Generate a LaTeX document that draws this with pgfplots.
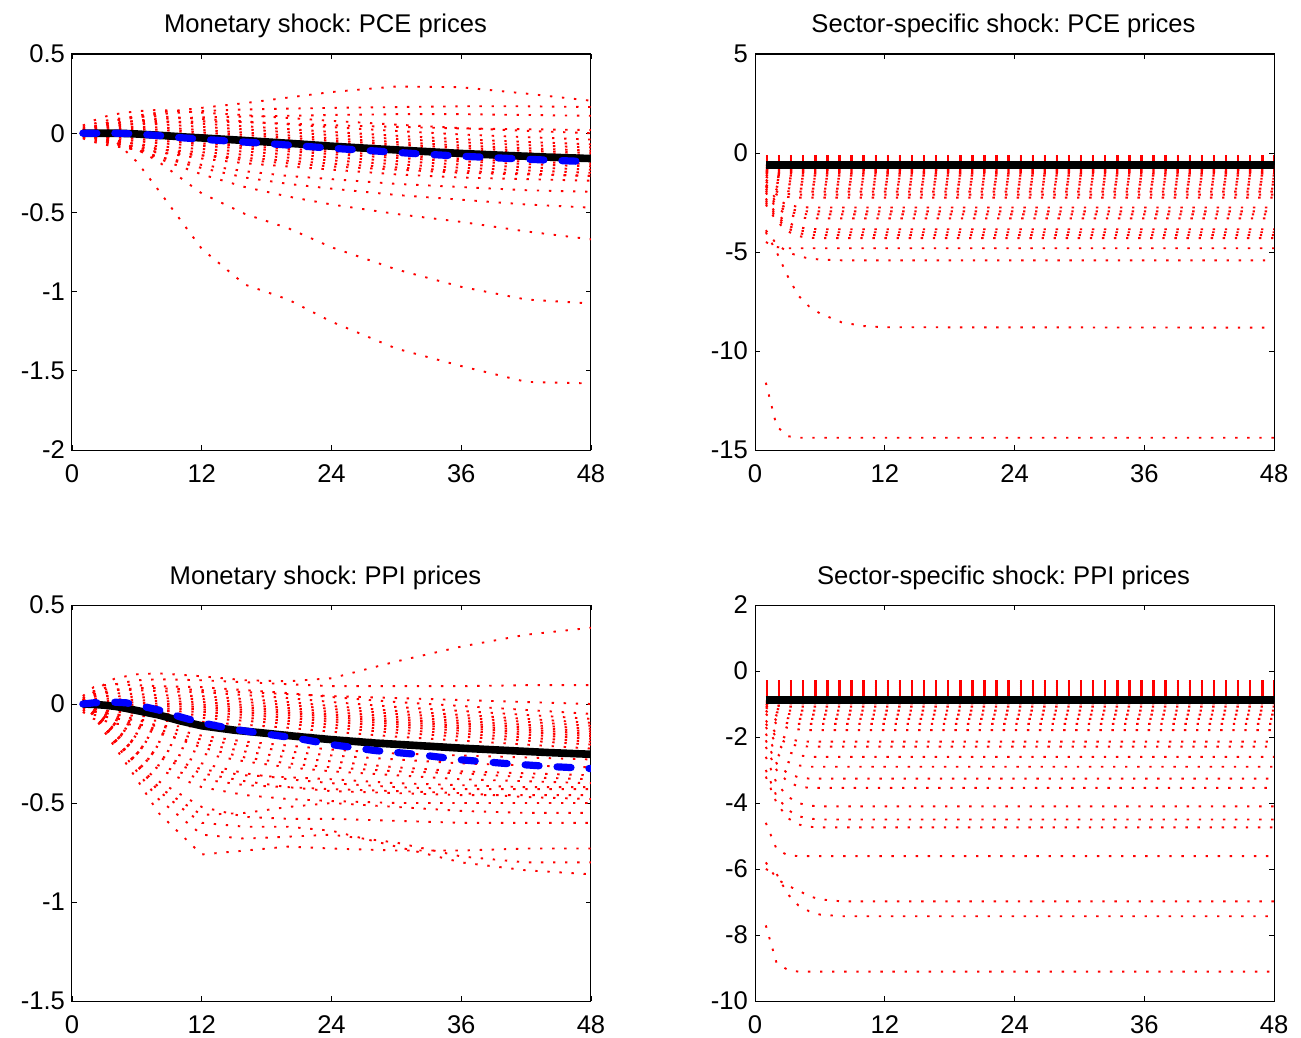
\documentclass[border=0pt]{standalone}
\usepackage{pgfplots}
\pgfplotsset{compat=1.18}
\usepackage{pgfplotstable}
\usepackage{fontspec}
\setmainfont{Liberation Sans}
\frenchspacing
\newcommand{\fs}{\fontsize{12.8}{15}\selectfont}

\pgfplotsset{
 panel/.style={
  scale only axis, width=259.5pt, height=198pt, anchor=north west,
  xmin=0, xmax=48, xtick={0,12,24,36,48}, xticklabels={0,12,24,36,48},
  tick align=inside, major tick length=2.5pt,
  tick style={black, line width=0.4pt},
  axis line style={black, line width=0.5pt},
  ticklabel style={font=\fs},
  xticklabel style={yshift=-3.6pt},
  title style={font=\fs, at={(0.5,1)}, anchor=base, yshift=4.5pt, inner sep=0pt},
 },
 reddot/.style={red, line width=0.95pt, dash pattern=on 1.2pt off 4.84pt, line cap=butt, forget plot},
 blk/.style={black, line width=3.8pt},
 blu/.style={blue, line width=3.6pt, dash pattern=on 7pt off 9pt, line cap=round},
}

% Monetary shock, PCE: one row per sector series
\pgfplotstableread{
name 1 2 3 4 6 8 12 16 20 24 30 36 42 48
c1 0.048 0.08 0.104 0.12 0.139 0.147 0.13 0.114 0.096 0.078 0.054 0.032 0.015 0.0
c2 0.036 0.06 0.078 0.09 0.103 0.107 0.09 0.074 0.056 0.038 0.014 -0.008 -0.025 -0.04
c3 0.027 0.045 0.059 0.068 0.076 0.077 0.06 0.044 0.026 0.008 -0.016 -0.038 -0.055 -0.07
c4 0.021 0.035 0.046 0.053 0.058 0.057 0.04 0.024 0.006 -0.012 -0.036 -0.058 -0.075 -0.09
c5 0.015 0.025 0.033 0.038 0.04 0.037 0.02 0.004 -0.014 -0.032 -0.056 -0.078 -0.095 -0.11
c6 0.011 0.018 0.023 0.026 0.027 0.022 0.005 -0.011 -0.029 -0.047 -0.071 -0.093 -0.11 -0.125
c7 0.006 0.01 0.013 0.015 0.013 0.007 -0.01 -0.026 -0.044 -0.062 -0.086 -0.108 -0.125 -0.14
c8 0.003 0.005 0.007 0.008 0.004 -0.003 -0.02 -0.036 -0.054 -0.072 -0.096 -0.118 -0.135 -0.15
c9 -0.003 -0.005 -0.007 -0.008 -0.014 -0.023 -0.04 -0.056 -0.074 -0.092 -0.116 -0.138 -0.155 -0.17
c10 -0.006 -0.01 -0.013 -0.015 -0.023 -0.033 -0.05 -0.066 -0.084 -0.102 -0.126 -0.148 -0.165 -0.18
c11 -0.011 -0.018 -0.023 -0.026 -0.037 -0.048 -0.065 -0.081 -0.099 -0.117 -0.141 -0.163 -0.18 -0.195
c12 -0.015 -0.025 -0.033 -0.038 -0.05 -0.063 -0.08 -0.096 -0.114 -0.132 -0.156 -0.178 -0.195 -0.21
c13 -0.021 -0.035 -0.046 -0.053 -0.068 -0.083 -0.1 -0.116 -0.134 -0.152 -0.176 -0.198 -0.215 -0.23
c14 -0.027 -0.045 -0.059 -0.068 -0.086 -0.103 -0.12 -0.136 -0.154 -0.172 -0.196 -0.218 -0.235 -0.25
c15 -0.033 -0.055 -0.072 -0.083 -0.104 -0.123 -0.14 -0.156 -0.174 -0.192 -0.216 -0.238 -0.255 -0.27
a 0.02 0.04 0.06 0.08 0.11 0.13 0.16 0.19 0.225 0.26 0.295 0.29 0.25 0.205
b 0.02 0.04 0.06 0.08 0.1 0.12 0.14 0.15 0.155 0.16 0.165 0.17 0.17 0.165
c 0.015 0.03 0.05 0.06 0.08 0.09 0.1 0.105 0.11 0.115 0.12 0.12 0.115 0.11
d -0.01 -0.02 -0.04 -0.06 -0.09 -0.12 -0.16 -0.19 -0.21 -0.23 -0.26 -0.28 -0.29 -0.3
e -0.01 -0.03 -0.05 -0.07 -0.11 -0.15 -0.2 -0.24 -0.27 -0.29 -0.32 -0.34 -0.36 -0.37
f -0.01 -0.02 -0.04 -0.06 -0.1 -0.15 -0.22 -0.28 -0.32 -0.35 -0.39 -0.42 -0.45 -0.47
g -0.01 -0.02 -0.04 -0.06 -0.1 -0.16 -0.26 -0.34 -0.4 -0.45 -0.51 -0.56 -0.62 -0.67
h 0 -0.01 -0.02 -0.04 -0.1 -0.18 -0.38 -0.51 -0.6 -0.72 -0.86 -0.97 -1.05 -1.075
i 0 -0.01 -0.02 -0.05 -0.18 -0.36 -0.73 -0.956 -1.05 -1.19 -1.36 -1.47 -1.57 -1.58
j -0.005 -0.015 -0.03 -0.045 -0.07 -0.1 -0.14 -0.17 -0.19 -0.21 -0.23 -0.25 -0.26 -0.27
k 0.01 0.02 0.035 0.045 0.06 0.07 0.075 0.07 0.06 0.05 0.04 0.03 0.025 0.02
}\TLraw
\pgfplotstabletranspose[colnames from=name, input colnames to=x]{\TL}{\TLraw}

% Monetary shock, PPI
\pgfplotstableread{
name 1 2 3 4 6 8 12 16 20 24 30 36 42 48
k1 0.04 0.085 0.095 0.1 0.095 0.09 0.085 0.07 0.055 0.035 0.01 -0.01 -0.03 -0.05
k2 0.03 0.065 0.073 0.075 0.07 0.065 0.06 0.045 0.03 0.01 -0.015 -0.035 -0.055 -0.075
k3 0.022 0.049 0.055 0.055 0.05 0.045 0.04 0.025 0.01 -0.01 -0.035 -0.055 -0.075 -0.095
k4 0.016 0.037 0.041 0.04 0.035 0.03 0.025 0.01 -0.005 -0.025 -0.05 -0.07 -0.09 -0.11
k5 0.01 0.025 0.028 0.025 0.02 0.015 0.01 -0.005 -0.02 -0.04 -0.065 -0.085 -0.105 -0.125
k6 0.005 0.015 0.016 0.012 0.007 0.002 -0.003 -0.018 -0.033 -0.053 -0.078 -0.098 -0.118 -0.138
k7 0 0.005 0.005 0 -0.005 -0.01 -0.015 -0.03 -0.045 -0.065 -0.09 -0.11 -0.13 -0.15
k8 -0.005 -0.005 -0.006 -0.012 -0.017 -0.022 -0.027 -0.042 -0.057 -0.077 -0.102 -0.122 -0.142 -0.162
k9 -0.01 -0.015 -0.018 -0.025 -0.03 -0.035 -0.04 -0.055 -0.07 -0.09 -0.115 -0.135 -0.155 -0.175
k10 -0.016 -0.027 -0.031 -0.04 -0.045 -0.05 -0.055 -0.07 -0.085 -0.105 -0.13 -0.15 -0.17 -0.19
k11 -0.022 -0.039 -0.045 -0.055 -0.06 -0.065 -0.07 -0.085 -0.1 -0.12 -0.145 -0.165 -0.185 -0.205
k12 -0.03 -0.055 -0.063 -0.075 -0.08 -0.085 -0.09 -0.105 -0.12 -0.14 -0.165 -0.185 -0.205 -0.225
k13 -0.04 -0.075 -0.085 -0.1 -0.105 -0.11 -0.115 -0.13 -0.145 -0.165 -0.19 -0.21 -0.23 -0.25
t1 0.02 0.06 0.1 0.13 0.15 0.155 0.14 0.12 0.115 0.13 0.215 0.29 0.35 0.385
t2 0.02 0.05 0.08 0.1 0.12 0.125 0.12 0.11 0.1 0.09 0.09 0.09 0.095 0.095
t3 0.015 0.04 0.06 0.07 0.08 0.08 0.07 0.06 0.05 0.04 0.03 0.02 0.01 0.0
l1 0 -0.02 -0.05 -0.08 -0.12 -0.15 -0.2 -0.24 -0.27 -0.29 -0.32 -0.34 -0.35 -0.36
l2 0 -0.03 -0.06 -0.1 -0.15 -0.19 -0.25 -0.29 -0.32 -0.34 -0.36 -0.38 -0.39 -0.4
l3 0 -0.03 -0.07 -0.11 -0.17 -0.22 -0.3 -0.35 -0.38 -0.4 -0.42 -0.43 -0.43 -0.43
l4 0 -0.04 -0.09 -0.14 -0.21 -0.27 -0.35 -0.39 -0.42 -0.44 -0.45 -0.46 -0.46 -0.46
l5 0 -0.04 -0.1 -0.16 -0.25 -0.33 -0.42 -0.46 -0.48 -0.49 -0.5 -0.5 -0.5 -0.5
l6 0 -0.05 -0.11 -0.18 -0.29 -0.39 -0.52 -0.57 -0.58 -0.58 -0.59 -0.6 -0.6 -0.6
l7 0 -0.06 -0.14 -0.22 -0.38 -0.55 -0.76 -0.74 -0.72 -0.73 -0.74 -0.74 -0.73 -0.73
l8 0 -0.05 -0.12 -0.2 -0.34 -0.48 -0.66 -0.68 -0.67 -0.66 -0.7 -0.77 -0.8 -0.8
l9 0 -0.05 -0.11 -0.18 -0.31 -0.44 -0.6 -0.62 -0.62 -0.64 -0.72 -0.8 -0.84 -0.86
l10 0 -0.02 -0.04 -0.06 -0.1 -0.13 -0.18 -0.21 -0.24 -0.26 -0.28 -0.3 -0.31 -0.32
l11 0 -0.015 -0.03 -0.05 -0.08 -0.11 -0.16 -0.19 -0.21 -0.23 -0.25 -0.26 -0.27 -0.28
l12 0 -0.02 -0.04 -0.07 -0.11 -0.14 -0.22 -0.27 -0.3 -0.32 -0.34 -0.35 -0.37 -0.38
l13 0 -0.03 -0.08 -0.13 -0.2 -0.26 -0.33 -0.36 -0.37 -0.38 -0.4 -0.41 -0.42 -0.42
l14 0 -0.04 -0.09 -0.15 -0.24 -0.31 -0.38 -0.41 -0.42 -0.43 -0.44 -0.45 -0.47 -0.48
l15 0 -0.05 -0.12 -0.19 -0.3 -0.42 -0.56 -0.55 -0.52 -0.5 -0.52 -0.54 -0.55 -0.55
}\BLraw
\pgfplotstabletranspose[colnames from=name, input colnames to=x]{\BL}{\BLraw}

% Sector-specific shock, PCE
\pgfplotstableread{
name 1 2 3 4 5 6 8 10 12 48
u1 -0.15 -0.15 -0.15 -0.15 -0.15 -0.15 -0.15 -0.15 -0.15 -0.15
u2 -0.2 -0.2 -0.2 -0.2 -0.2 -0.2 -0.2 -0.2 -0.2 -0.2
u3 -0.25 -0.25 -0.25 -0.25 -0.25 -0.25 -0.25 -0.25 -0.25 -0.25
u4 -0.3 -0.3 -0.3 -0.3 -0.3 -0.3 -0.3 -0.3 -0.3 -0.3
u5 -0.35 -0.35 -0.35 -0.35 -0.35 -0.35 -0.35 -0.35 -0.35 -0.35
u6 -0.4 -0.4 -0.4 -0.4 -0.4 -0.4 -0.4 -0.4 -0.4 -0.4
u7 -0.45 -0.45 -0.45 -0.45 -0.45 -0.45 -0.45 -0.45 -0.45 -0.45
u8 -0.5 -0.5 -0.5 -0.5 -0.5 -0.5 -0.5 -0.5 -0.5 -0.5
u9 -0.6 -0.65 -0.65 -0.65 -0.65 -0.65 -0.65 -0.65 -0.65 -0.65
w1 -0.7 -0.75 -0.75 -0.75 -0.75 -0.75 -0.75 -0.75 -0.75 -0.75
w2 -0.78 -0.85 -0.85 -0.85 -0.85 -0.85 -0.85 -0.85 -0.85 -0.85
w3 -0.85 -0.93 -0.95 -0.95 -0.95 -0.95 -0.95 -0.95 -0.95 -0.95
w4 -0.9 -1.0 -1.05 -1.05 -1.05 -1.05 -1.05 -1.05 -1.05 -1.05
w5 -0.95 -1.1 -1.15 -1.15 -1.15 -1.15 -1.15 -1.15 -1.15 -1.15
w6 -1.0 -1.2 -1.28 -1.3 -1.3 -1.3 -1.3 -1.3 -1.3 -1.3
w7 -1.1 -1.35 -1.43 -1.45 -1.45 -1.45 -1.45 -1.45 -1.45 -1.45
w8 -1.2 -1.5 -1.58 -1.6 -1.6 -1.6 -1.6 -1.6 -1.6 -1.6
w9 -1.35 -1.7 -1.78 -1.8 -1.8 -1.8 -1.8 -1.8 -1.8 -1.8
w10 -1.45 -1.85 -1.93 -1.95 -1.95 -1.95 -1.95 -1.95 -1.95 -1.95
w11 -1.6 -1.95 -2.07 -2.1 -2.1 -2.1 -2.1 -2.1 -2.1 -2.1
w12 -1.7 -2.1 -2.22 -2.25 -2.25 -2.25 -2.25 -2.25 -2.25 -2.25
w13 -1.65 -2.35 -2.62 -2.72 -2.75 -2.75 -2.75 -2.75 -2.75 -2.75
w14 -1.8 -2.5 -2.8 -2.92 -2.95 -2.95 -2.95 -2.95 -2.95 -2.95
w15 -1.9 -2.65 -2.95 -3.07 -3.1 -3.1 -3.1 -3.1 -3.1 -3.1
w16 -2.0 -2.8 -3.1 -3.25 -3.3 -3.3 -3.3 -3.3 -3.3 -3.3
w17 -2.3 -3.1 -3.5 -3.75 -3.83 -3.85 -3.85 -3.85 -3.85 -3.85
w18 -2.4 -3.2 -3.65 -3.9 -3.98 -4.0 -4.0 -4.0 -4.0 -4.0
w19 -2.5 -3.3 -3.8 -4.05 -4.13 -4.15 -4.15 -4.15 -4.15 -4.15
w20 -2.6 -3.45 -3.95 -4.2 -4.28 -4.3 -4.3 -4.3 -4.3 -4.3
w21 -4.5 -4.75 -4.81 -4.81 -4.81 -4.81 -4.81 -4.81 -4.81 -4.81
w22 -3.9 -4.6 -5.0 -5.2 -5.33 -5.38 -5.42 -5.42 -5.42 -5.42
w23 -4.0 -5.0 -6.2 -7.2 -7.75 -8.1 -8.55 -8.74 -8.8 -8.82
w24 -11.6 -13.8 -14.3 -14.38 -14.38 -14.38 -14.38 -14.38 -14.38 -14.38
}\TRraw
\pgfplotstabletranspose[colnames from=name, input colnames to=x]{\TR}{\TRraw}

% Sector-specific shock, PPI
\pgfplotstableread{
name 1 2 3 4 5 6 8 10 12 48
u1 -0.3 -0.3 -0.3 -0.3 -0.3 -0.3 -0.3 -0.3 -0.3 -0.3
u2 -0.36 -0.36 -0.36 -0.36 -0.36 -0.36 -0.36 -0.36 -0.36 -0.36
u3 -0.42 -0.42 -0.42 -0.42 -0.42 -0.42 -0.42 -0.42 -0.42 -0.42
u4 -0.48 -0.48 -0.48 -0.48 -0.48 -0.48 -0.48 -0.48 -0.48 -0.48
u5 -0.55 -0.55 -0.55 -0.55 -0.55 -0.55 -0.55 -0.55 -0.55 -0.55
u6 -0.61 -0.61 -0.61 -0.61 -0.61 -0.61 -0.61 -0.61 -0.61 -0.61
u7 -0.67 -0.67 -0.67 -0.67 -0.67 -0.67 -0.67 -0.67 -0.67 -0.67
u8 -0.73 -0.73 -0.73 -0.73 -0.73 -0.73 -0.73 -0.73 -0.73 -0.73
u9 -0.79 -0.79 -0.79 -0.79 -0.79 -0.79 -0.79 -0.79 -0.79 -0.79
w1 -0.9 -0.98 -0.98 -0.98 -0.98 -0.98 -0.98 -0.98 -0.98 -0.98
w2 -0.95 -1.05 -1.08 -1.08 -1.08 -1.08 -1.08 -1.08 -1.08 -1.08
w3 -1.0 -1.15 -1.2 -1.2 -1.2 -1.2 -1.2 -1.2 -1.2 -1.2
w4 -1.05 -1.25 -1.3 -1.32 -1.32 -1.32 -1.32 -1.32 -1.32 -1.32
w5 -1.1 -1.35 -1.43 -1.45 -1.45 -1.45 -1.45 -1.45 -1.45 -1.45
w6 -1.2 -1.5 -1.58 -1.6 -1.6 -1.6 -1.6 -1.6 -1.6 -1.6
w7 -1.3 -1.6 -1.72 -1.77 -1.79 -1.79 -1.79 -1.79 -1.79 -1.79
w8 -1.5 -1.9 -2.05 -2.12 -2.14 -2.14 -2.14 -2.14 -2.14 -2.14
w9 -1.6 -2.0 -2.2 -2.27 -2.29 -2.29 -2.29 -2.29 -2.29 -2.29
w10 -1.7 -2.2 -2.45 -2.55 -2.6 -2.6 -2.6 -2.6 -2.6 -2.6
w11 -1.9 -2.5 -2.75 -2.86 -2.9 -2.9 -2.9 -2.9 -2.9 -2.9
w12 -2.1 -2.8 -3.1 -3.22 -3.26 -3.26 -3.26 -3.26 -3.26 -3.26
w13 -2.3 -3.0 -3.35 -3.5 -3.54 -3.54 -3.54 -3.54 -3.54 -3.54
w14 -2.6 -3.4 -3.8 -4.0 -4.08 -4.1 -4.1 -4.1 -4.1 -4.1
w15 -3.0 -3.8 -4.2 -4.4 -4.47 -4.5 -4.5 -4.5 -4.5 -4.5
w16 -3.2 -4.0 -4.45 -4.65 -4.72 -4.74 -4.74 -4.74 -4.74 -4.74
w17 -4.6 -5.4 -5.58 -5.61 -5.61 -5.61 -5.61 -5.61 -5.61 -5.61
w18 -5.8 -6.3 -6.5 -6.65 -6.82 -6.92 -6.98 -6.98 -6.98 -6.98
w19 -6.0 -6.15 -6.75 -7.1 -7.28 -7.38 -7.43 -7.43 -7.43 -7.43
w20 -7.71 -8.85 -9.05 -9.11 -9.11 -9.11 -9.11 -9.11 -9.11 -9.11
}\BRraw
\pgfplotstabletranspose[colnames from=name, input colnames to=x]{\BR}{\BRraw}

\begin{document}
\begin{tikzpicture}
\useasboundingbox (0,0) rectangle (650.5pt,-519pt);
\pgfplotstablegetcolsof{\TL}\pgfmathtruncatemacro\nTL{\pgfplotsretval-1}
\pgfplotstablegetcolsof{\BL}\pgfmathtruncatemacro\nBL{\pgfplotsretval-1}
\pgfplotstablegetcolsof{\TR}\pgfmathtruncatemacro\nTR{\pgfplotsretval-1}
\pgfplotstablegetcolsof{\BR}\pgfmathtruncatemacro\nBR{\pgfplotsretval-1}

% Top left
\begin{axis}[panel, at={(36pt,-27pt)},
  title={Monetary shock: PCE prices}, title style={xshift=-3pt},
  ymin=-2, ymax=0.5, ytick={-2,-1.5,-1,-0.5,0,0.5},
  yticklabels={-2,-1.5,-1,-0.5,0,0.5}]
\pgfplotsinvokeforeach{1,...,\nTL}{\addplot[reddot] table[x=x, y index=#1]{\TL};}
\addplot[blk] coordinates {(1,0)(2,0)(3,0)(4,0)(5,-0.002)(6,-0.005)(8,-0.013)(10,-0.022)(12,-0.03)(15,-0.042)(18,-0.055)(21,-0.068)(24,-0.082)(28,-0.098)(32,-0.113)(36,-0.128)(40,-0.14)(44,-0.151)(48,-0.16)};
\addplot[blu] coordinates {(1,0)(2,0)(3,0)(4,0)(5,-0.002)(6,-0.005)(8,-0.015)(10,-0.028)(12,-0.038)(15,-0.052)(18,-0.065)(21,-0.08)(24,-0.095)(28,-0.112)(32,-0.13)(36,-0.145)(40,-0.158)(44,-0.17)(48,-0.18)};
\end{axis}

% Top right
\begin{axis}[panel, at={(377.5pt,-27pt)},
  title={Sector-specific shock: PCE prices}, title style={xshift=-5.5pt},
  ymin=-15, ymax=5, ytick={-15,-10,-5,0,5},
  yticklabels={-15,-10,-5,0,5}]
\pgfplotsinvokeforeach{1,...,\nTR}{\addplot[reddot] table[x=x, y index=#1]{\TR};}
\addplot[blk] coordinates {(1,-0.6)(48,-0.6)};
\end{axis}

% Bottom left
\begin{axis}[panel, at={(36pt,-302.5pt)},
  title={Monetary shock: PPI prices}, title style={xshift=-3pt},
  ymin=-1.5, ymax=0.5, ytick={-1.5,-1,-0.5,0,0.5},
  yticklabels={-1.5,-1,-0.5,0,0.5}]
\pgfplotsinvokeforeach{1,...,\nBL}{\addplot[reddot] table[x=x, y index=#1]{\BL};}
\addplot[blk] coordinates {(1,0)(2,-0.002)(3,-0.006)(4,-0.012)(5,-0.022)(6,-0.033)(8,-0.055)(10,-0.085)(12,-0.11)(15,-0.132)(18,-0.148)(21,-0.165)(24,-0.18)(28,-0.197)(32,-0.21)(36,-0.223)(40,-0.234)(44,-0.245)(48,-0.254)};
\addplot[blu] coordinates {(1,0)(2,0.006)(3,0.008)(4,0.009)(5,0.006)(6,-0.005)(8,-0.03)(10,-0.065)(12,-0.095)(15,-0.128)(18,-0.152)(21,-0.175)(24,-0.205)(28,-0.235)(32,-0.255)(36,-0.282)(40,-0.3)(44,-0.315)(48,-0.326)};
\end{axis}

% Bottom right
\begin{axis}[panel, at={(377.5pt,-302.5pt)},
  title={Sector-specific shock: PPI prices}, title style={xshift=-5.5pt},
  ymin=-10, ymax=2, ytick={-10,-8,-6,-4,-2,0,2},
  yticklabels={-10,-8,-6,-4,-2,0,2}]
\pgfplotsinvokeforeach{1,...,\nBR}{\addplot[reddot] table[x=x, y index=#1]{\BR};}
\addplot[blk] coordinates {(1,-0.87)(48,-0.87)};
\end{axis}
\end{tikzpicture}
\end{document}
